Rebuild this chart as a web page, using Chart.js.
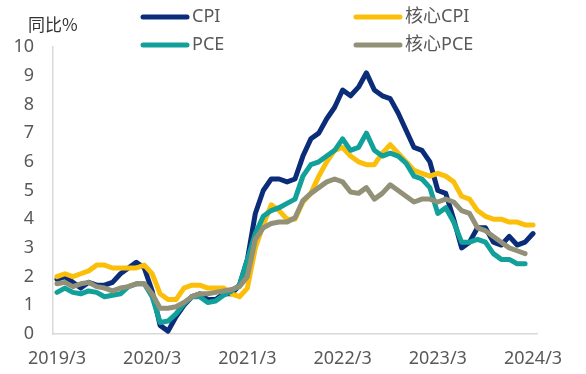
<!DOCTYPE html>
<html lang="zh">
<head>
    <meta charset="UTF-8">
    <title>CPI / PCE 同比</title>
    <script src="https://cdn.jsdelivr.net/npm/chart.js"></script>
    <style>
        html, body { margin: 0; padding: 0; background: #fff; }
        #wrap { width: 586px; height: 374px; position: relative; }
    </style>
</head>
<body>
<div id="wrap"><canvas id="inflChart"></canvas></div>

<script>
    // 月份 2019/3 - 2024/3
    var months = [];
    for (var y = 2019; y <= 2024; y++) {
        for (var m = 1; m <= 12; m++) {
            if ((y === 2019 && m < 3) || (y === 2024 && m > 3)) continue;
            months.push(y + '/' + m);
        }
    }
    var tickLabels = ['2019/3', '2020/3', '2021/3', '2022/3', '2023/3', '2024/3'];

    // 同比 %
    var cpi = [1.9, 2.0, 1.8, 1.6, 1.8, 1.7, 1.7, 1.8, 2.1, 2.3,
        2.5, 2.3, 1.5, 0.3, 0.1, 0.6, 1.0, 1.3, 1.4, 1.2, 1.2, 1.4,
        1.4, 1.7, 2.6, 4.2, 5.0, 5.4, 5.4, 5.3, 5.4, 6.2, 6.8, 7.0,
        7.5, 7.9, 8.5, 8.3, 8.6, 9.1, 8.5, 8.3, 8.2, 7.7, 7.1, 6.5,
        6.4, 6.0, 5.0, 4.9, 4.0, 3.0, 3.2, 3.7, 3.7, 3.2, 3.1, 3.4,
        3.1, 3.2, 3.5];
    var coreCpi = [2.0, 2.1, 2.0, 2.1, 2.2, 2.4, 2.4, 2.3, 2.3, 2.3,
        2.3, 2.4, 2.1, 1.4, 1.2, 1.2, 1.6, 1.7, 1.7, 1.6, 1.6, 1.6,
        1.4, 1.3, 1.6, 3.0, 3.8, 4.5, 4.3, 4.0, 4.0, 4.6, 4.9, 5.5,
        6.0, 6.4, 6.5, 6.2, 6.0, 5.9, 5.9, 6.3, 6.6, 6.3, 6.0, 5.7,
        5.6, 5.5, 5.6, 5.5, 5.3, 4.8, 4.7, 4.3, 4.1, 4.0, 4.0, 3.9,
        3.9, 3.8, 3.8];
    var pce = [1.45, 1.6, 1.45, 1.4, 1.5, 1.45, 1.3, 1.35, 1.4, 1.65,
        1.75, 1.75, 1.3, 0.4, 0.45, 0.7, 1.05, 1.3, 1.3, 1.1, 1.15, 1.35,
        1.5, 1.7, 2.6, 3.5, 4.1, 4.3, 4.4, 4.55, 4.7, 5.5, 5.9, 6.0,
        6.2, 6.4, 6.8, 6.4, 6.5, 7.0, 6.4, 6.2, 6.3, 6.2, 5.95, 5.5,
        5.4, 5.1, 4.2, 4.4, 3.9, 3.2, 3.2, 3.3, 3.2, 2.8, 2.6, 2.6,
        2.45, 2.45];
    var corePce = [1.75, 1.8, 1.65, 1.75, 1.8, 1.65, 1.6, 1.5, 1.6, 1.65,
        1.75, 1.75, 1.4, 0.9, 0.9, 0.95, 1.1, 1.3, 1.4, 1.4, 1.45, 1.5,
        1.55, 1.65, 2.0, 3.3, 3.7, 3.85, 3.9, 3.9, 4.05, 4.65, 4.9, 5.1,
        5.3, 5.4, 5.3, 4.95, 4.9, 5.1, 4.7, 4.9, 5.2, 5.0, 4.8, 4.6,
        4.7, 4.7, 4.6, 4.7, 4.6, 4.3, 4.2, 3.7, 3.6, 3.4, 3.2, 3.0,
        2.9, 2.8];

    var FONT = '"Noto Sans", "Noto Sans CJK SC", sans-serif';

    function line(label, data, color, order) {
        return {
            label: label, data: data, borderColor: color, backgroundColor: color,
            borderWidth: 5, pointRadius: 0, tension: 0, fill: false,
            borderJoinStyle: 'round', borderCapStyle: 'round', order: order
        };
    }

    // 图例 + 单位 (手动摆放成两列)
    var legendPos = [
        { x: 141, y: 17 }, { x: 354, y: 17 },
        { x: 141, y: 45 }, { x: 354, y: 45 }
    ];
    var legendPlugin = {
        id: 'manualLegend',
        afterDraw: function (chart) {
            var ctx = chart.ctx;
            ctx.save();
            ctx.textBaseline = 'middle';
            ctx.fillStyle = '#333333';
            ctx.font = '17px "Noto Sans CJK SC", sans-serif';
            ctx.fillText('同比%', 28, 25);
            chart.data.datasets.forEach(function (ds, i) {
                var p = legendPos[i];
                ctx.strokeStyle = ds.borderColor;
                ctx.lineWidth = 5;
                ctx.lineCap = 'round';
                ctx.beginPath();
                ctx.moveTo(p.x + 2, p.y);
                ctx.lineTo(p.x + 46, p.y);
                ctx.stroke();
                ctx.fillStyle = '#595959';
                ctx.font = '18px "Noto Sans", "Noto Sans CJK SC", sans-serif';
                ctx.fillText(ds.label, p.x + 51, p.y);
            });
            ctx.restore();
        }
    };

    var chart = new Chart(document.getElementById('inflChart').getContext('2d'), {
        type: 'line',
        data: {
            labels: months,
            datasets: [
                line('CPI', cpi, '#0b2c79', 4),
                line('核心CPI', coreCpi, '#fbbf0a', 3),
                line('PCE', pce, '#12a09b', 2),
                line('核心PCE', corePce, '#929178', 1)
            ]
        },
        options: {
            responsive: true,
            maintainAspectRatio: false,
            animation: false,
            layout: { padding: { top: 47, right: 49, left: 0, bottom: 0 } },
            plugins: { legend: { display: false }, tooltip: { enabled: false } },
            scales: {
                x: {
                    offset: true,
                    grid: { display: false, drawTicks: false },
                    border: { display: true, color: '#d9d9d9', width: 1.5 },
                    ticks: {
                        autoSkip: false, maxRotation: 0, padding: 14,
                        color: '#595959', font: { family: FONT, size: 18 },
                        callback: function (v) {
                            var l = this.getLabelForValue(v);
                            return tickLabels.indexOf(l) >= 0 ? l : '';
                        }
                    },
                    afterFit: function (s) { s.height = 40; }
                },
                y: {
                    min: 0, max: 10,
                    grid: { display: false, drawTicks: false },
                    border: { display: true, color: '#d9d9d9', width: 1.5 },
                    ticks: {
                        stepSize: 1, padding: 19,
                        color: '#595959', font: { family: FONT, size: 18 }
                    },
                    afterFit: function (s) { s.width = 53; }
                }
            }
        },
        plugins: [legendPlugin]
    });
</script>
</body>
</html>
